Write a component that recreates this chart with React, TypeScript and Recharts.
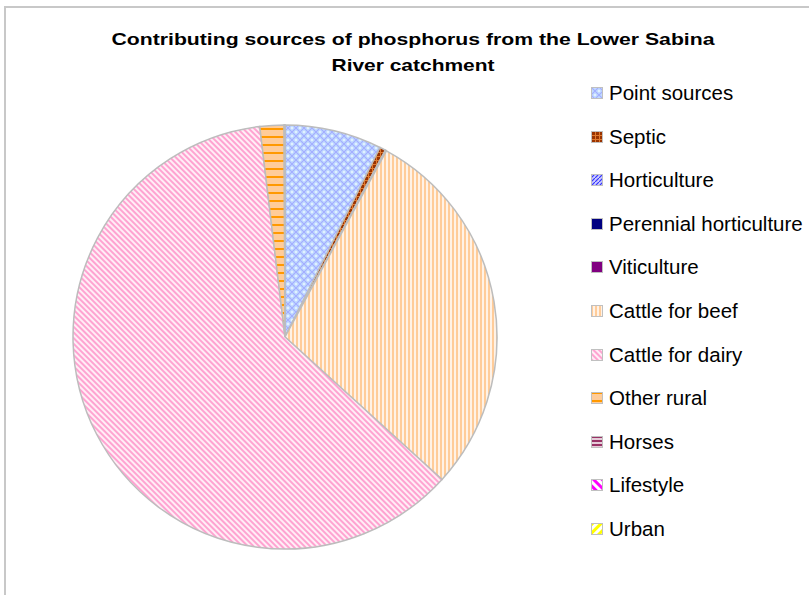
import React from "react";
import { PieChart, Pie, Cell, Legend } from "recharts";

const categories = [
  "Point sources",
  "Septic",
  "Horticulture",
  "Perennial horticulture",
  "Viticulture",
  "Cattle for beef",
  "Cattle for dairy",
  "Other rural",
  "Horses",
  "Lifestyle",
  "Urban",
];
const shares = [7.4, 0.45, 0.05, 0.02, 0.02, 28.8, 61.4, 1.84, 0.02, 0.02, 0.02];
const fills = [
  "url(#pPoint)",
  "url(#pSeptic)",
  "url(#pHort)",
  "#000080",
  "#800080",
  "url(#pBeef)",
  "url(#pDairy)",
  "url(#pOther)",
  "url(#pHorses)",
  "url(#pLife)",
  "url(#pUrban)",
];
const titleLines = ["Contributing sources of phosphorus from the Lower Sabina", "River catchment"];
const titleWidths = [603, 163];

const data = categories.map((name, i) => ({ name, value: shares[i] }));

const Patterns = () => (
  <svg width={0} height={0} style={{ position: "absolute" }}>
    <defs>
      <pattern id="pPoint" width={8} height={8} patternUnits="userSpaceOnUse">
        <rect width={8} height={8} fill="#c2dcff" />
        <path d="M0 0 L8 8 M8 0 L0 8" stroke="#a3adff" strokeWidth={1.2} />
        <rect x={3} y={0} width={2} height={1} fill="#e2f0ff" />
        <rect x={3} y={7} width={2} height={1} fill="#e2f0ff" />
        <rect x={0} y={3} width={1} height={2} fill="#e2f0ff" />
        <rect x={7} y={3} width={1} height={2} fill="#e2f0ff" />
      </pattern>
      <pattern id="pSeptic" width={4} height={4} patternUnits="userSpaceOnUse">
        <rect width={4} height={4} fill="#993300" />
        <rect x={0} y={0} width={4} height={1} fill="#e07a30" />
        <rect x={0} y={0} width={1} height={4} fill="#e07a30" />
      </pattern>
      <pattern id="pHort" width={4} height={4} patternUnits="userSpaceOnUse">
        <rect width={4} height={4} fill="#ccccff" />
        <path d="M0 4 L4 0" stroke="#3333ff" strokeWidth={1.2} />
      </pattern>
      <pattern id="pBeef" width={4} height={4} patternUnits="userSpaceOnUse">
        <rect width={4} height={4} fill="#fff2e6" />
        <rect x={0} y={0} width={2} height={4} fill="#ffcc99" />
      </pattern>
      <pattern id="pDairy" width={4} height={4} patternUnits="userSpaceOnUse" patternTransform="rotate(-45)">
        <rect width={4} height={4} fill="#ffeef6" />
        <rect x={0} y={0} width={2} height={4} fill="#ffa3d1" />
      </pattern>
      <pattern id="pOther" width={8} height={8} patternUnits="userSpaceOnUse">
        <rect width={8} height={8} fill="#ffcc99" />
        <rect x={0} y={0} width={8} height={2} fill="#ff9900" />
      </pattern>
      <pattern id="pHorses" width={4} height={4} patternUnits="userSpaceOnUse">
        <rect width={4} height={4} fill="#e6ccd9" />
        <rect x={0} y={0} width={4} height={2} fill="#993366" />
      </pattern>
      <pattern id="pLife" width={6} height={6} patternUnits="userSpaceOnUse" patternTransform="rotate(-45)">
        <rect width={6} height={6} fill="#ffffff" />
        <rect x={0} y={0} width={3} height={6} fill="#ff00ff" />
      </pattern>
      <pattern id="pUrban" width={6} height={6} patternUnits="userSpaceOnUse" patternTransform="rotate(45)">
        <rect width={6} height={6} fill="#ffffff" />
        <rect x={0} y={0} width={3} height={6} fill="#ffff00" />
      </pattern>
    </defs>
  </svg>
);

const LegendContent = () => (
  <div style={{ position: "relative", width: 230, height: 470 }}>
    {categories.map((name, i) => (
      <div
        key={name}
        style={{
          position: "absolute",
          left: 0,
          top: i * 43.6,
          height: 24,
          display: "flex",
          alignItems: "center",
          whiteSpace: "nowrap",
        }}
      >
        <svg width={12} height={12} style={{ marginRight: 6 }}>
          <rect x={0.5} y={0.5} width={11} height={11} fill={fills[i]} stroke="#c0c0c0" strokeWidth={1} />
        </svg>
        <span
          style={{
            fontFamily: "'Liberation Sans', Arial, sans-serif",
            fontSize: 20.5,
            color: "#000",
            lineHeight: "24px",
          }}
        >
          {name}
        </span>
      </div>
    ))}
  </div>
);

export default function App() {
  return (
    <div style={{ position: "absolute", left: 0, top: 0, width: 809, height: 595, background: "#fff", overflow: "hidden" }}>
      <Patterns />
      <div
        style={{
          position: "absolute",
          left: 4,
          top: 6,
          width: 820,
          height: 600,
          borderLeft: "2px solid #c8c8c8",
          borderTop: "2px solid #c8c8c8",
        }}
      />
      <PieChart width={809} height={595} margin={{ top: 0, right: 0, bottom: 0, left: 0 }} style={{ position: "absolute", left: 0, top: 0 }}>
        {titleLines.map((line, i) => (
          <text
            key={line}
            x={413}
            y={45 + i * 25.5}
            textAnchor="middle"
            textLength={titleWidths[i]}
            lengthAdjust="spacingAndGlyphs"
            style={{ fontFamily: "'Liberation Sans', Arial, sans-serif", fontWeight: "bold", fontSize: 17 }}
          >
            {line}
          </text>
        ))}
        <Pie
          data={data}
          dataKey="value"
          nameKey="name"
          cx={285}
          cy={337}
          outerRadius={212}
          innerRadius={0}
          startAngle={90}
          endAngle={-270}
          stroke="#bdbdbd"
          strokeWidth={1.5}
          isAnimationActive={false}
          label={false}
          labelLine={false}
        >
          {data.map((d, i) => (
            <Cell key={d.name} fill={fills[i]} />
          ))}
        </Pie>
        <Legend
          content={() => <LegendContent />}
          wrapperStyle={{ position: "absolute", left: 591, top: 81, width: 230 }}
        />
      </PieChart>
    </div>
  );
}
